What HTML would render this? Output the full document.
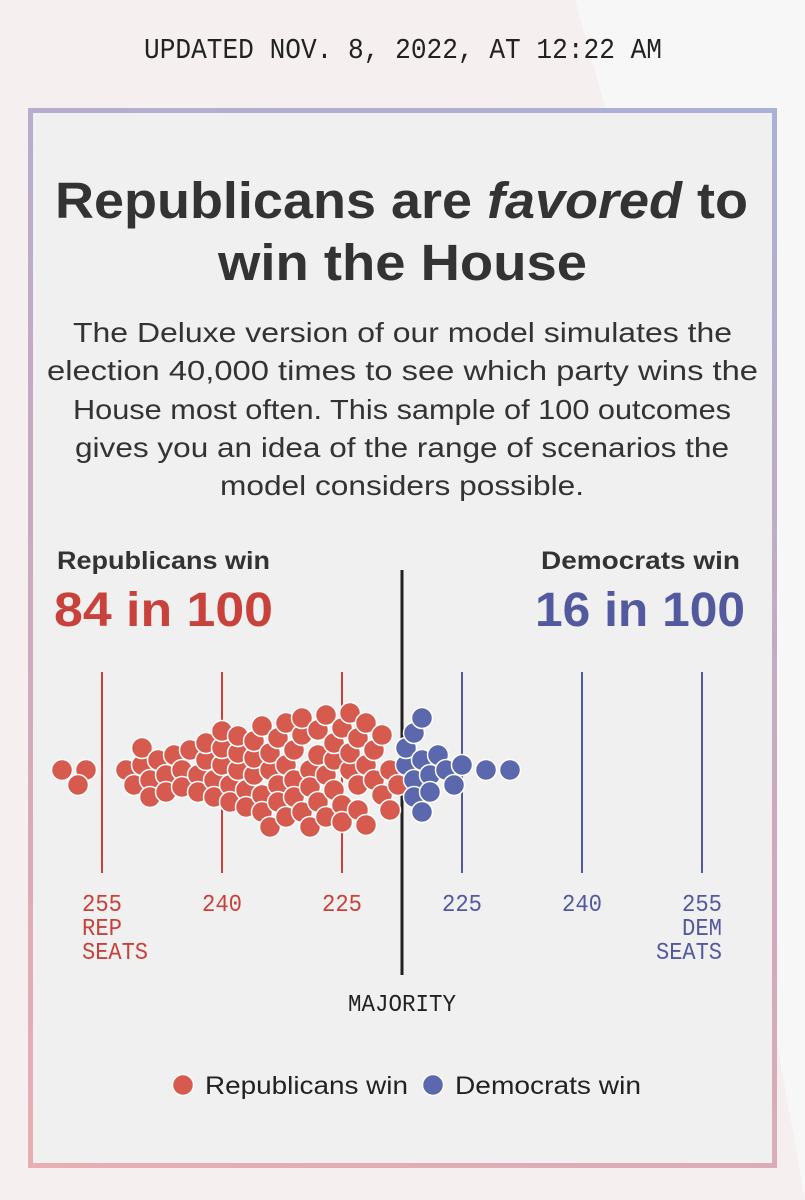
<!DOCTYPE html>
<html><head><meta charset="utf-8">
<style>
html,body{margin:0;padding:0;}
body{width:805px;height:1200px;overflow:hidden;position:relative;font-family:"Liberation Sans",sans-serif;background:#f7f7f7;}
#bg{position:absolute;left:0;top:0;width:805px;height:1200px;}
#card{position:absolute;left:28px;top:108px;width:749px;height:1060px;box-sizing:border-box;padding:5px;background:linear-gradient(20deg,#e8aeb2 0%,#c9a9bf 50%,#aab0d8 100%);}
#inner{position:relative;width:100%;height:100%;background:#f0f0f0;}
</style></head>
<body>
<svg id="bg" width="805" height="1200">
<rect width="805" height="1200" fill="#f7f7f7"/>
<polygon points="0,0 575,0 620,160 805,1200 0,1200" fill="#f5eff0"/>
</svg>
<div id="card"><div id="inner"></div></div>
<svg id="chart" width="805" height="1200" style="position:absolute;left:0;top:0">
<text x="144" y="58" font-family="Liberation Mono, monospace" font-size="29" fill="#222" textLength="518" lengthAdjust="spacingAndGlyphs">UPDATED NOV. 8, 2022, AT 12:22 AM</text>
<g font-family="Liberation Sans, sans-serif" fill="#333">
<text x="55" y="218" font-size="51" font-weight="bold" textLength="693" lengthAdjust="spacingAndGlyphs">Republicans are <tspan font-style="italic">favored</tspan> to</text>
<text x="218" y="280" font-size="51" font-weight="bold" textLength="369" lengthAdjust="spacingAndGlyphs">win the House</text>
<g font-size="28">
<text x="73" y="342" textLength="659" lengthAdjust="spacingAndGlyphs">The Deluxe version of our model simulates the</text>
<text x="47" y="380" textLength="711" lengthAdjust="spacingAndGlyphs">election 40,000 times to see which party wins the</text>
<text x="73" y="419" textLength="658" lengthAdjust="spacingAndGlyphs">House most often. This sample of 100 outcomes</text>
<text x="75" y="457" textLength="654" lengthAdjust="spacingAndGlyphs">gives you an idea of the range of scenarios the</text>
<text x="220" y="495" textLength="364" lengthAdjust="spacingAndGlyphs">model considers possible.</text>
</g>
</g>
<g font-family="Liberation Sans, sans-serif" font-weight="bold">
<text x="57" y="569" font-size="25" fill="#333" textLength="213" lengthAdjust="spacingAndGlyphs">Republicans win</text>
<text x="54" y="626" font-size="48" fill="#c8423b" textLength="219" lengthAdjust="spacingAndGlyphs">84 in 100</text>
<text x="541" y="569" font-size="25" fill="#333" textLength="199" lengthAdjust="spacingAndGlyphs">Democrats win</text>
<text x="535" y="626" font-size="48" fill="#52599f" textLength="210" lengthAdjust="spacingAndGlyphs">16 in 100</text>
</g>
<g id="axis"></g>
<g id="dots"></g>
<g font-family="Liberation Sans, sans-serif" font-size="25" fill="#222">
<circle cx="183" cy="1085" r="10.5" fill="#d65a4e" stroke="#fff" stroke-width="1.5"/>
<text x="205" y="1094" textLength="203" lengthAdjust="spacingAndGlyphs">Republicans win</text>
<circle cx="433" cy="1085" r="10.5" fill="#5c68ad" stroke="#fff" stroke-width="1.5"/>
<text x="455" y="1094" textLength="186" lengthAdjust="spacingAndGlyphs">Democrats win</text>
</g>
</svg>
<script>
// Republican seat counts for 100 sampled outcomes
const repSeats = [260,257,258,
252,251,250,250,249,249,
248,247,247,246,245,245,244,243,
243,242,242,241,241,240,240,240,239,239,238,238,
238,237,237,236,236,236,235,235,235,234,234,234,233,233,
233,232,232,232,231,231,231,230,230,230,229,229,229,228,228,
228,227,227,227,226,226,226,225,225,225,224,224,224,223,
223,223,222,222,222,221,221,220,220,219,219,218,
217,217,216,216,216,215,215,215,214,214,213,
212,211,210,207,204];
const repTicks = [255,240,225];
const demTicks = [225,240,255];
const majority = 218;

const NS='http://www.w3.org/2000/svg';
const midX=402, pxPerSeat=8, cy=770, center=217.5;
function xRep(r){return midX-(r-center)*pxPerSeat;}
function xDem(d){return midX+(d-center)*pxPerSeat;}
function mk(tag,attrs,parent){const e=document.createElementNS(NS,tag);for(const k in attrs)e.setAttribute(k,attrs[k]);parent.appendChild(e);return e;}
const axis=document.getElementById('axis');
const monoF='Liberation Mono, monospace';
const fs=24;
repTicks.forEach((t,i)=>{
  const x=xRep(t);
  const l=mk('line',{x1:x,x2:x,y1:672,y2:873,stroke:'#c8423b','stroke-width':2},axis);
  
  
  const tx=mk('text',{x:x-20,y:911,'font-family':monoF,'font-size':fs,fill:'#c8423b',textLength:40,lengthAdjust:'spacingAndGlyphs'},axis);
  tx.textContent=t;
  
  
});
demTicks.forEach((t,i)=>{
  const x=xDem(t);
  const l=mk('line',{x1:x,x2:x,y1:672,y2:873,stroke:'#52599f','stroke-width':2},axis);
  
  
  const tx=mk('text',{x:x-20,y:911,'font-family':monoF,'font-size':fs,fill:'#52599f',textLength:40,lengthAdjust:'spacingAndGlyphs'},axis);
  tx.textContent=t;
  
  
});
[['REP',935,82,40,'#c8423b'],['SEATS',959,82,66,'#c8423b'],['DEM',935,682,40,'#52599f'],['SEATS',959,656,66,'#52599f'],['MAJORITY',1011,348,108,'#222']].forEach(a=>{
  const tx=mk('text',{x:a[2],y:a[1],'font-family':monoF,'font-size':fs,fill:a[4],textLength:a[3],lengthAdjust:'spacingAndGlyphs'},axis);
  tx.textContent=a[0];
  
  
});
const maj=mk('line',{x1:midX,x2:midX,y1:570,y2:975,stroke:'#222','stroke-width':3},axis);



// beeswarm placement
const dotsG=document.getElementById('dots');
const placed=[];const minD=16.5;
repSeats.forEach(r=>{
  const x=xRep(r);
  let best=0;
  for(let k=0;k<200;k++){
    const dy=(k%2?1:-1)*Math.ceil(k/2);
    if(placed.every(p=>(p.x-x)**2+(p.y-cy-dy)**2>=minD*minD)){best=dy;break;}
  }
  placed.push({x:x,y:cy+best,r:r});
});
placed.forEach(p=>{
  const c=mk('circle',{cx:p.x,cy:p.y,r:10.5,fill:p.r>=majority?'#d65a4e':'#5c68ad',stroke:'#fff','stroke-width':1.5},dotsG);
  
  
});
</script>
</body></html>
